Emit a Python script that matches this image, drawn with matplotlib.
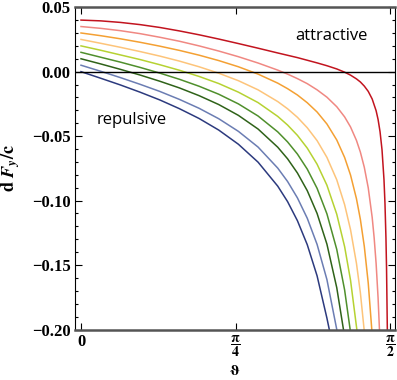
import numpy as np
import matplotlib
matplotlib.use('Agg')
import matplotlib.pyplot as plt
from matplotlib.ticker import FixedLocator, FixedFormatter, MultipleLocator

# values (theta in rad, dF_y/c)
th_blue = [0, 0.1, 0.2, 0.3, 0.4, 0.5, 0.6, 0.7, 0.8, 0.9, 1.0, 1.05, 1.1, 1.15, 1.2, 1.25, 1.262]
y_blue = [0, -0.0051, -0.0103, -0.0159, -0.0219, -0.0287, -0.0363, -0.0453, -0.0563, -0.0702,
          -0.0888, -0.1008, -0.1156, -0.1342, -0.1584, -0.1912, -0.200]

th_lblue = [0, 0.1, 0.2, 0.3, 0.4, 0.5, 0.6, 0.7, 0.8, 0.9, 1.0, 1.05, 1.1, 1.15, 1.2, 1.25, 1.3]
y_lblue = [0.005, 0.0003, -0.0046, -0.0098, -0.0153, -0.0215, -0.0284, -0.0365, -0.0463, -0.0585,
           -0.0748, -0.0852, -0.0979, -0.1137, -0.1340, -0.1613, -0.200]

th_dgreen = [0, 0.1, 0.2, 0.3, 0.4, 0.5, 0.6, 0.7, 0.8, 0.9, 1.0, 1.05, 1.1, 1.15, 1.2, 1.25, 1.3, 1.334]
y_dgreen = [0.01, 0.0060, 0.0018, -0.0026, -0.0074, -0.0126, -0.0186, -0.0255, -0.0339, -0.0445,
            -0.0586, -0.0676, -0.0786, -0.0923, -0.1100, -0.1338, -0.1676, -0.200]

th_green = [0, 0.1, 0.2, 0.3, 0.4, 0.5, 0.6, 0.7, 0.8, 0.9, 1.0, 1.05, 1.1, 1.15, 1.2, 1.25, 1.3, 1.34, 1.368]
y_green = [0.015, 0.0112, 0.0074, 0.0033, -0.0011, -0.0059, -0.0113, -0.0175, -0.0250, -0.0344,
           -0.0467, -0.0545, -0.0639, -0.0756, -0.0905, -0.1103, -0.1379, -0.1694, -0.200]

th_ygreen = [0, 0.1, 0.2, 0.3, 0.4, 0.5, 0.6, 0.7, 0.8, 0.9, 1.0, 1.05, 1.1, 1.15, 1.2, 1.25, 1.3, 1.34, 1.37, 1.402]
y_ygreen = [0.02, 0.0166, 0.0130, 0.0094, 0.0054, 0.0011, -0.0037, -0.0092, -0.0159, -0.0240,
            -0.0347, -0.0414, -0.0494, -0.0593, -0.0718, -0.0881, -0.1106, -0.1358, -0.1618, -0.200]

th_peach = [0, 0.1, 0.2, 0.3, 0.4, 0.5, 0.6, 0.7, 0.8, 0.9, 1.0, 1.05, 1.1, 1.15, 1.2, 1.25, 1.3,
            1.34, 1.37, 1.40, 1.42, 1.439]
y_peach = [0.025, 0.0220, 0.0189, 0.0156, 0.0121, 0.0082, 0.0038, -0.0012, -0.0070, -0.0141,
           -0.0232, -0.0288, -0.0354, -0.0435, -0.0535, -0.0665, -0.0839, -0.1032, -0.1226,
           -0.1486, -0.1715, -0.200]

th_orange = [0, 0.1, 0.2, 0.3, 0.4, 0.5, 0.6, 0.7, 0.8, 0.9, 1.0, 1.05, 1.1, 1.15, 1.2, 1.25, 1.3,
             1.34, 1.37, 1.40, 1.42, 1.44, 1.46, 1.478]
y_orange = [0.03, 0.0279, 0.0255, 0.0228, 0.0198, 0.0165, 0.0128, 0.0086, 0.0038, -0.0019,
            -0.0089, -0.0132, -0.0181, -0.0241, -0.0313, -0.0406, -0.0530, -0.0666, -0.0802,
            -0.0985, -0.1146, -0.1356, -0.1640, -0.200]

th_pink = [0, 0.1, 0.2, 0.3, 0.4, 0.5, 0.6, 0.7, 0.8, 0.9, 1.0, 1.05, 1.1, 1.15, 1.2, 1.25, 1.3,
           1.34, 1.37, 1.40, 1.42, 1.44, 1.46, 1.48, 1.49, 1.50, 1.51, 1.517]
y_pink = [0.035, 0.0336, 0.0318, 0.0295, 0.0267, 0.0236, 0.0200, 0.0160, 0.0116, 0.0067,
          0.0012, -0.0019, -0.0054, -0.0093, -0.0141, -0.0198, -0.0272, -0.0351, -0.0429,
          -0.0533, -0.0624, -0.0742, -0.0901, -0.1130, -0.1288, -0.1488, -0.1755, -0.200]

th_red = [0, 0.1, 0.2, 0.3, 0.4, 0.5, 0.6, 0.7, 0.8, 0.9, 1.0, 1.1, 1.2, 1.25, 1.3, 1.34, 1.37,
          1.40, 1.42, 1.44, 1.46, 1.48, 1.50, 1.51, 1.52, 1.53, 1.54, 1.545, 1.55, 1.553, 1.557]
y_red = [0.04, 0.0394, 0.0382, 0.0365, 0.0343, 0.0316, 0.0286, 0.0253, 0.0218, 0.0182,
         0.0145, 0.0109, 0.0068, 0.0046, 0.0021, -0.0004, -0.0027, -0.0056, -0.0080, -0.0112,
         -0.0153, -0.0212, -0.0303, -0.0371, -0.0466, -0.0606, -0.0837, -0.1020, -0.1290,
         -0.1525, -0.200]

ytick_vals = [-0.2, -0.15, -0.1, -0.05, 0.0, 0.05]
ytick_labels = ['\u22120.20', '\u22120.15', '\u22120.10', '\u22120.05', '0.00', '0.05']
xtick_vals = [0, np.pi / 4, np.pi / 2]
xtick_labels = ['0', r'$\mathbf{\dfrac{\pi}{4}}$', r'$\mathbf{\dfrac{\pi}{2}}$']

curves = [
    (th_blue, y_blue, '#2c3a7e'),
    (th_lblue, y_lblue, '#6b7db3'),
    (th_dgreen, y_dgreen, '#2f6219'),
    (th_green, y_green, '#4f8f2c'),
    (th_ygreen, y_ygreen, '#b6d232'),
    (th_peach, y_peach, '#fdc47a'),
    (th_orange, y_orange, '#f4a033'),
    (th_pink, y_pink, '#f08882'),
    (th_red, y_red, '#c2141f'),
]

plt.rcParams['mathtext.fontset'] = 'stix'
plt.rcParams['font.family'] = ['Liberation Serif', 'DejaVu Serif']

fig = plt.figure(figsize=(3.97, 3.80), dpi=100)
ax = fig.add_axes([75 / 397, 1 - 329.5 / 380, 320 / 397, 322.3 / 380])

for th, y, c in curves:
    ax.plot(th, y, color=c, lw=1.1)
ax.axhline(0, color='black', lw=1.0)

ax.set_xlim(-0.0305, 1.596)
ax.set_ylim(-0.2, 0.05)

ax.xaxis.set_major_locator(FixedLocator(xtick_vals))
ax.xaxis.set_major_formatter(FixedFormatter(xtick_labels))
ax.yaxis.set_major_locator(FixedLocator(ytick_vals))
ax.yaxis.set_major_formatter(FixedFormatter(ytick_labels))
ax.yaxis.set_minor_locator(MultipleLocator(0.01))

ax.tick_params(which='both', direction='in', top=True, right=True, width=0.8, color='black')
ax.tick_params(which='major', length=5, labelsize=12, pad=3)
ax.tick_params(which='minor', length=2.5)
ax.tick_params(axis='x', pad=3)
for lbl in ax.get_xticklabels() + ax.get_yticklabels():
    lbl.set_fontweight('bold')
for lbl in ax.get_xticklabels()[1:]:
    lbl.set_fontsize(10)

for side in ['top', 'bottom']:
    ax.spines[side].set_color('#555555')
    ax.spines[side].set_linewidth(1.8)
for side in ['left', 'right']:
    ax.spines[side].set_color('black')
    ax.spines[side].set_linewidth(0.8)

ax.text(1.271, 0.028, 'attractive', family='Open Sans', fontsize=12, ha='center', va='center')
ax.text(0.259, -0.0373, 'repulsive', family='Open Sans', fontsize=12, ha='center', va='center')

ax.set_ylabel(r'$\mathbf{d}\ \boldsymbol{F}_{\boldsymbol{y}}\mathbf{/c}$', fontsize=13)
ax.yaxis.set_label_coords(-0.166, 0.5)
ax.set_xlabel(r'$\boldsymbol{\vartheta}$', fontsize=11)
ax.xaxis.set_label_coords(0.5, -0.108)

fig.savefig('out.png', dpi=100)
